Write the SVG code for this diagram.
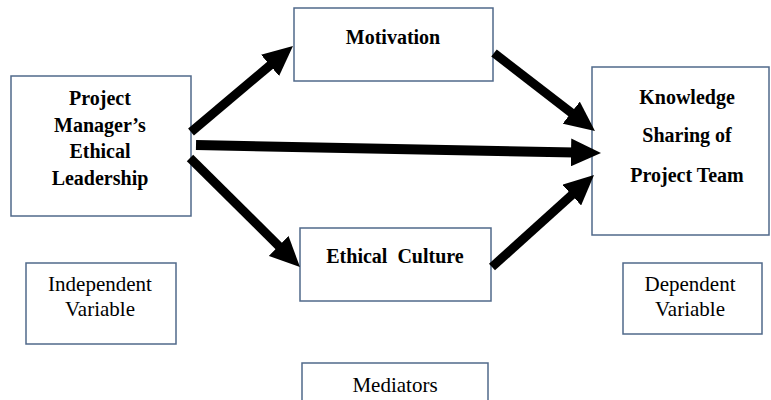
<svg xmlns="http://www.w3.org/2000/svg" width="771" height="400" viewBox="0 0 771 400">
<style>
.box{fill:#fff;stroke:#50698a;stroke-width:1.5}
.b{font-family:'Liberation Serif','Times New Roman','DejaVu Serif',serif;font-weight:bold;font-size:20px;text-anchor:middle;fill:#000}
.r{font-family:'Liberation Serif','Times New Roman','DejaVu Serif',serif;font-size:21px;text-anchor:middle;fill:#000}
.arr{stroke:#000;stroke-width:9;fill:none;marker-end:url(#ah)}
</style>
<defs>
<marker id="ah" markerUnits="userSpaceOnUse" markerWidth="30" markerHeight="28" refX="4" refY="14" orient="auto">
<path d="M0,0 L30,14 L0,28 z" fill="#000"/>
</marker>
</defs>
<rect width="771" height="400" fill="#fff"/>
<g id="pm">
<rect class="box" x="11" y="76" width="180" height="140"/>
<text class="b" x="100" y="105">Project</text>
<text class="b" x="100" y="132">Manager’s</text>
<text class="b" x="100" y="158">Ethical</text>
<text class="b" x="100" y="185">Leadership</text>
</g>
<g id="motivation">
<rect class="box" x="294" y="8" width="199" height="73"/>
<text class="b" x="393" y="44">Motivation</text>
</g>
<g id="ks">
<rect class="box" x="592" y="67" width="177" height="168"/>
<text class="b" x="687" y="104">Knowledge</text>
<text class="b" x="687" y="142">Sharing of</text>
<text class="b" x="687" y="182">Project Team</text>
</g>
<g id="ec">
<rect class="box" x="300" y="228" width="191" height="73"/>
<text class="b" x="395" y="263" style="white-space:pre">Ethical  Culture</text>
</g>
<g id="iv">
<rect class="box" x="26" y="263" width="150" height="81"/>
<text class="r" x="100" y="291">Independent</text>
<text class="r" x="100" y="316">Variable</text>
</g>
<g id="dv">
<rect class="box" x="623" y="263" width="139" height="71"/>
<text class="r" x="690" y="291">Dependent</text>
<text class="r" x="690" y="316">Variable</text>
</g>
<g id="med">
<rect class="box" x="302" y="363" width="186" height="50"/>
<text class="r" x="395" y="392">Mediators</text>
</g>
<g id="connectors">
<line class="arr" x1="191" y1="132" x2="273.1" y2="62.8"/>
<line class="arr" x1="196" y1="145" x2="575" y2="152.5" style="stroke-width:10"/>
<line class="arr" x1="190" y1="158" x2="281.5" y2="248.7"/>
<line class="arr" x1="494" y1="53" x2="574.4" y2="115.1"/>
<line class="arr" x1="492" y1="267" x2="574.7" y2="192.4"/>
</g>
</svg>
